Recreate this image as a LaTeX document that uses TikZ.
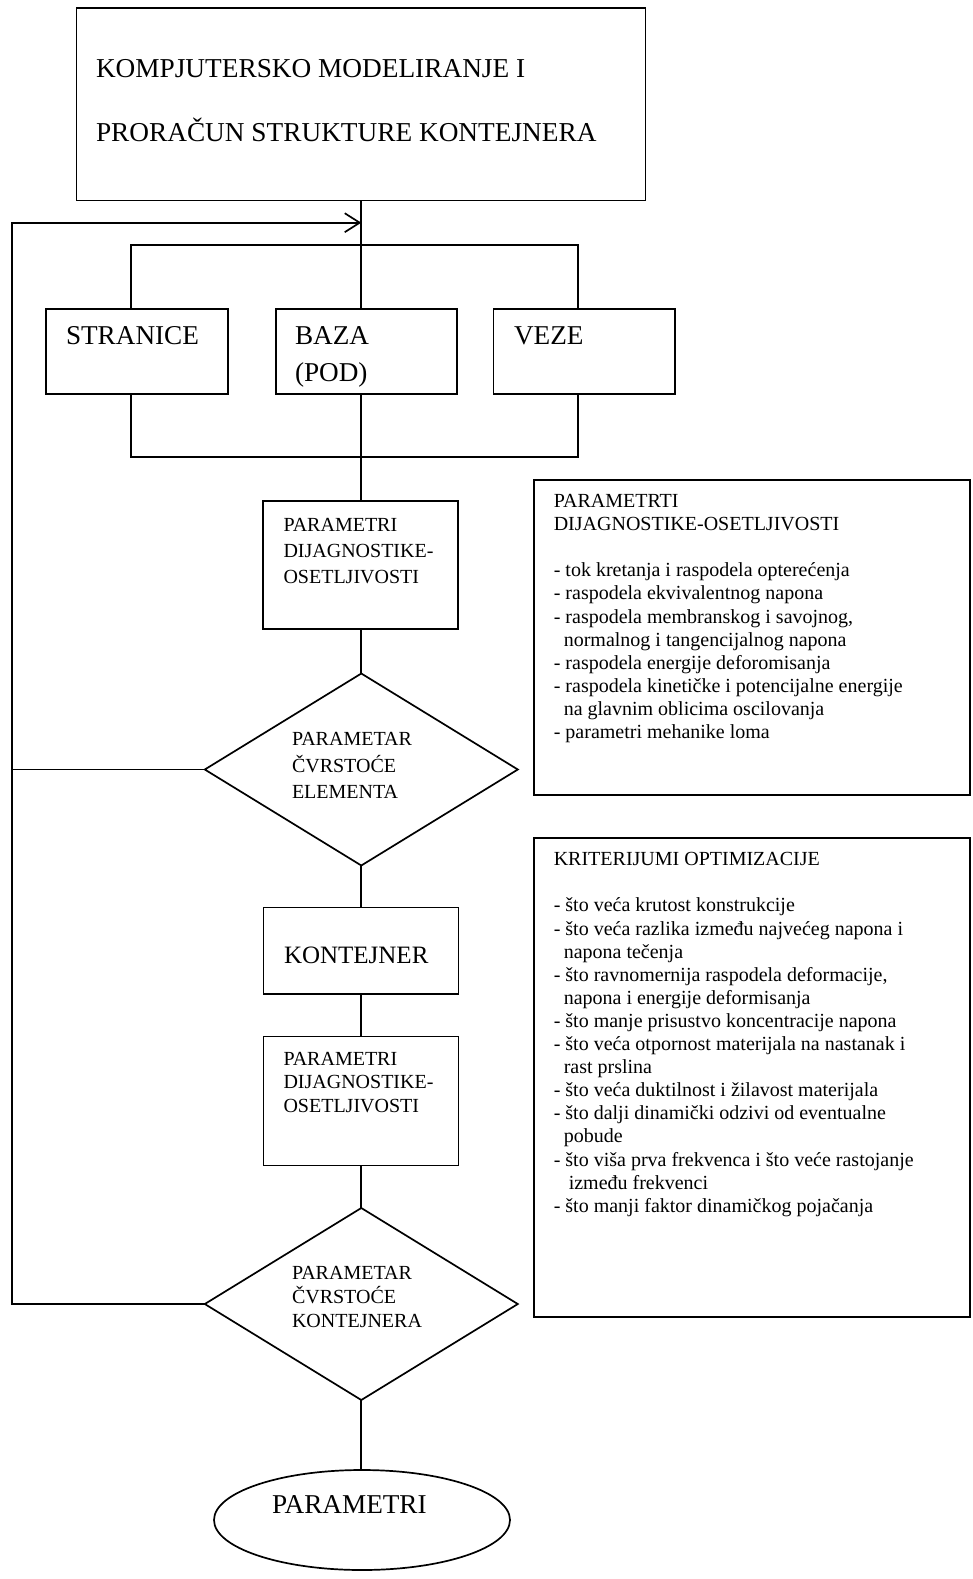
\documentclass[tikz,border=0pt]{standalone}
\usepackage{fontspec}
\setmainfont{Liberation Serif}
\usetikzlibrary{shapes.geometric,arrows.meta}
\newcommand{\mystrut}[1]{\rule{0pt}{#1pt}}
\begin{document}
\begin{tikzpicture}[x=1pt,y=-1pt,
  every node/.style={inner sep=0pt, outer sep=0pt},
  ln/.style={line width=1.7pt},
  box/.style={draw, line width=1.7pt, rectangle, anchor=north west},
  txt/.style={anchor=north west, align=left},
  fa/.style={font=\fontsize{27.3}{63.5}\selectfont},
  fb/.style={font=\fontsize{27.2}{37.5}\selectfont},
  fc/.style={font=\fontsize{20}{26}\selectfont},
  fd/.style={font=\fontsize{20}{26.5}\selectfont},
  fe/.style={font=\fontsize{20}{23.5}\selectfont},
  ff/.style={font=\fontsize{20}{24}\selectfont},
  fg/.style={font=\fontsize{20}{23.1}\selectfont},
  fk/.style={font=\fontsize{25}{29}\selectfont},
  dia/.style={draw, line width=1.7pt, diamond, minimum width=313pt, minimum height=192pt},
]
\useasboundingbox (0,0) rectangle (973,1579);

% boxes
\node[box, minimum width=569pt, minimum height=192.5pt] (top) at (76.5,8) {};
\node[box, minimum width=182pt, minimum height=85pt] (str) at (46,309) {};
\node[box, minimum width=181pt, minimum height=85pt] (baza) at (276,309) {};
\node[box, minimum width=181.5pt, minimum height=85pt] (veze) at (493.5,309) {};
\node[box, minimum width=195pt, minimum height=128pt] (p1) at (263,501) {};
\node[dia] (d1) at (361.3,769.5) {};
\node[box, minimum width=195pt, minimum height=86.5pt] (kont) at (263.5,907.5) {};
\node[box, minimum width=195pt, minimum height=129pt] (p2) at (263.5,1036.5) {};
\node[dia] (d2) at (361.3,1304) {};
\node[draw, line width=1.7pt, ellipse, minimum width=296pt, minimum height=100pt] (ell) at (362,1520) {};
\node[box, minimum width=436pt, minimum height=315pt] (r1) at (534,480) {};
\node[box, minimum width=436pt, minimum height=479pt] (r2) at (534,838.3) {};

% texts
\node[txt, fa] (ttop) at (96,50.5) {\mystrut{27}KOMPJUTERSKO MODELIRANJE I\\PRORAČUN STRUKTURE KONTEJNERA};
\node[txt, fb] (tstr) at (66,317) {\mystrut{27}STRANICE};
\node[txt, fb] (tbaza) at (295,317) {\mystrut{27}BAZA\\(POD)};
\node[txt, fb] (tveze) at (514,317) {\mystrut{27}VEZE};
\node[txt, fc] (tp1) at (283.5,511) {\mystrut{20}PARAMETRI\\DIJAGNOSTIKE-\\OSETLJIVOSTI};
\node[txt, fd] (td1) at (292,725.5) {\mystrut{20}PARAMETAR\\ČVRSTOĆE\\ELEMENTA};
\node[txt, fk] (tkont) at (284,938) {\mystrut{25}KONTEJNER};
\node[txt, fe] (tp2) at (283.5,1045) {\mystrut{20}PARAMETRI\\DIJAGNOSTIKE-\\OSETLJIVOSTI};
\node[txt, ff] (td2) at (292,1259) {\mystrut{20}PARAMETAR\\ČVRSTOĆE\\KONTEJNERA};
\node[txt, fb] (tell) at (272,1486) {\mystrut{27}PARAMETRI};
\node[txt, fg] (tr1) at (553.8,487.5) {\mystrut{20}PARAMETRTI\\
DIJAGNOSTIKE-OSETLJIVOSTI\\
\mbox{}\\
- tok kretanja i raspodela opterećenja\\
- raspodela ekvivalentnog napona\\
- raspodela membranskog i savojnog,\\
\hspace*{10pt}normalnog i tangencijalnog napona\\
- raspodela energije deforomisanja\\
- raspodela kinetičke i potencijalne energije\\
\hspace*{10pt}na glavnim oblicima oscilovanja\\
- parametri mehanike loma};
\node[txt, fg] (tr2) at (553.8,845.7) {\mystrut{20}KRITERIJUMI OPTIMIZACIJE\\
\mbox{}\\
- što veća krutost konstrukcije\\
- što veća razlika između najvećeg napona i\\
\hspace*{10pt}napona tečenja\\
- što ravnomernija raspodela deformacije,\\
\hspace*{10pt}napona i energije deformisanja\\
- što manje prisustvo koncentracije napona\\
- što veća otpornost materijala na nastanak i\\
\hspace*{10pt}rast prslina\\
- što veća duktilnost i žilavost materijala\\
- što dalji dinamički odzivi od eventualne\\
\hspace*{10pt}pobude\\
- što viša prva frekvenca i što veće rastojanje\\
\hspace*{15pt}između frekvenci\\
- što manji faktor dinamičkog pojačanja};

% helper coordinates
\coordinate (cx) at (361.3,0);
\coordinate (xl) at (131,0);
\coordinate (xr) at (578,0);
\coordinate (fx) at (11.7,0);
\coordinate (busT) at (361.3,245);
\coordinate (busB) at (361.3,457);
\coordinate (arr) at (361.3,222.7);

% connectors
\draw[ln] (top.south -| cx) -- (baza.north -| cx);
\draw[ln] (str.north -| xl) |- (busT) -| (veze.north -| xr);
\draw[ln] (str.south -| xl) |- (busB) -| (veze.south -| xr);
\draw[ln] (baza.south -| cx) -- (p1.north -| cx);
\draw[ln] (p1.south -| cx) -- (d1.north);
\draw[ln] (d1.south) -- (kont.north -| cx);
\draw[ln] (kont.south -| cx) -- (p2.north -| cx);
\draw[ln] (p2.south -| cx) -- (d2.north);
\draw[ln] (d2.south) -- (ell.north -| cx);
\draw[ln] (d1.west) -- (d1.west -| fx);
\draw[ln, -{Straight Barb[length=15pt,width=19pt]}] (d2.west) -| (fx |- arr) -- (arr);
\end{tikzpicture}
\end{document}
